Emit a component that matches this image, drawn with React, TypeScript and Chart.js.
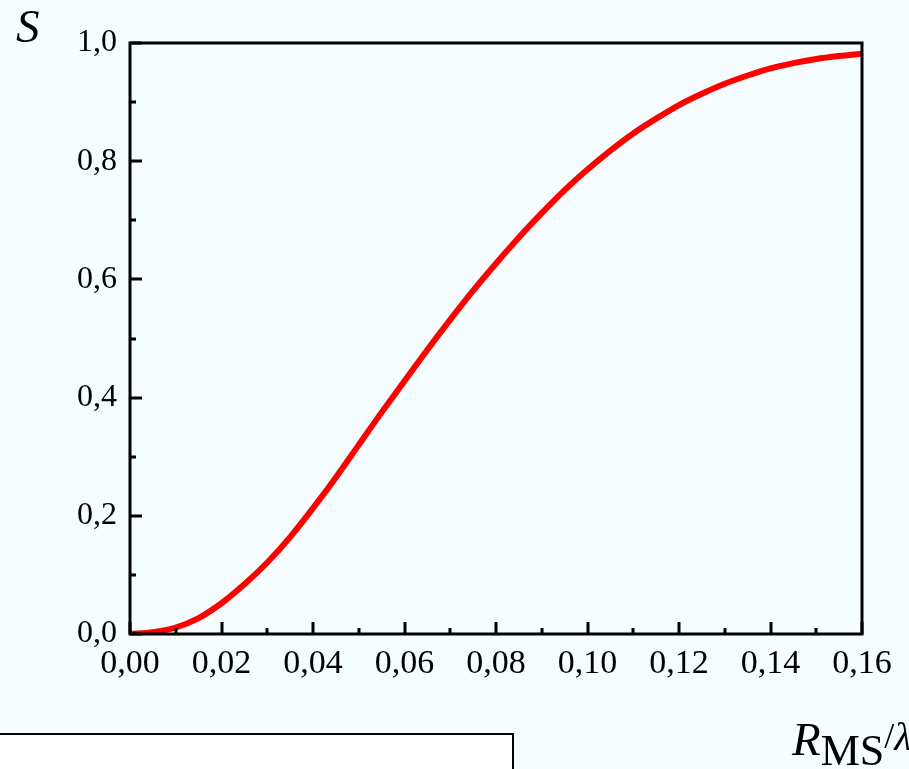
import React, { useEffect, useRef } from "react";
import { Chart, registerables } from "chart.js";

Chart.register(...registerables);

const xValues = [
  0, 0.005, 0.01, 0.015, 0.02, 0.025, 0.03, 0.035, 0.04, 0.045, 0.05, 0.055,
  0.06, 0.065, 0.07, 0.075, 0.08, 0.085, 0.09, 0.095, 0.1, 0.105, 0.11, 0.115,
  0.12, 0.125, 0.13, 0.135, 0.14, 0.145, 0.15, 0.155, 0.16,
];
const sValues = [
  0, 0.003, 0.011, 0.027, 0.052, 0.084, 0.121, 0.164, 0.213, 0.265, 0.32, 0.375,
  0.428, 0.481, 0.532, 0.581, 0.627, 0.671, 0.712, 0.751, 0.786, 0.818, 0.847,
  0.872, 0.895, 0.914, 0.931, 0.945, 0.957, 0.966, 0.973, 0.978, 0.982,
];
const xMajorTicks = [0, 0.02, 0.04, 0.06, 0.08, 0.1, 0.12, 0.14, 0.16];
const xMinorTicks = [0.01, 0.03, 0.05, 0.07, 0.09, 0.11, 0.13, 0.15];
const yMajorTicks = [0, 0.2, 0.4, 0.6, 0.8, 1.0];
const yMinorTicks = [0.1, 0.3, 0.5, 0.7, 0.9];
const yTitle = "S";
const xTitleMain = "R";
const xTitleSub = "MS";
const xTitleSlash = "/";
const xTitleRest = "\u03bb";

const BG = "#f5fdff";
const SERIF = "'Liberation Serif', 'Times New Roman', serif";

const framePlugin = {
  id: "frame",
  beforeDraw(chart: any) {
    const { ctx, width, height } = chart;
    ctx.save();
    ctx.fillStyle = BG;
    ctx.fillRect(0, 0, width, height);
    ctx.fillStyle = "#ffffff";
    ctx.fillRect(0, 734, 513, height - 734);
    ctx.strokeStyle = "#000";
    ctx.lineWidth = 2;
    ctx.beginPath();
    ctx.moveTo(0, 734);
    ctx.lineTo(513, 734);
    ctx.lineTo(513, height);
    ctx.stroke();
    ctx.restore();
  },
  afterDraw(chart: any) {
    const { ctx, chartArea } = chart;
    const xs = chart.scales.x;
    const ys = chart.scales.y;
    const { left, right, top, bottom } = chartArea;
    ctx.save();
    ctx.strokeStyle = "#000";
    ctx.lineWidth = 3;
    ctx.strokeRect(left, top, right - left, bottom - top);
    ctx.beginPath();
    xMajorTicks.forEach((v) => {
      const px = Math.round(xs.getPixelForValue(v));
      ctx.moveTo(px, bottom);
      ctx.lineTo(px, bottom - 12);
    });
    xMinorTicks.forEach((v) => {
      const px = Math.round(xs.getPixelForValue(v));
      ctx.moveTo(px, bottom);
      ctx.lineTo(px, bottom - 6);
    });
    yMajorTicks.forEach((v) => {
      const py = Math.round(ys.getPixelForValue(v));
      ctx.moveTo(left, py);
      ctx.lineTo(left + 12, py);
    });
    yMinorTicks.forEach((v) => {
      const py = Math.round(ys.getPixelForValue(v));
      ctx.moveTo(left, py);
      ctx.lineTo(left + 6, py);
    });
    ctx.stroke();

    ctx.fillStyle = "#000";
    ctx.textBaseline = "alphabetic";
    ctx.textAlign = "left";
    ctx.font = `italic 47px ${SERIF}`;
    ctx.fillText(yTitle, 16, 42);

    let x = 792;
    ctx.font = `italic 47px ${SERIF}`;
    ctx.fillText(xTitleMain, x, 755);
    x += ctx.measureText(xTitleMain).width;
    ctx.font = `44px ${SERIF}`;
    ctx.fillText(xTitleSub, x, 765);
    x += ctx.measureText(xTitleSub).width;
    ctx.font = `36px ${SERIF}`;
    ctx.fillText(xTitleSlash, x, 748);
    x += ctx.measureText(xTitleSlash).width;
    ctx.font = `italic 40px ${SERIF}`;
    ctx.fillText(xTitleRest, x, 750);
    ctx.restore();
  },
};

export default function App() {
  const ref = useRef<HTMLCanvasElement | null>(null);
  useEffect(() => {
    document.body.style.margin = "0";
    document.body.style.background = BG;
    const canvas = ref.current;
    if (!canvas) return;
    const chart = new Chart(canvas, {
      type: "line",
      data: {
        datasets: [
          {
            data: xValues.map((x, i) => ({ x, y: sValues[i] })),
            borderColor: "#ff0000",
            borderWidth: 6,
            pointRadius: 0,
            fill: false,
            cubicInterpolationMode: "monotone",
          },
        ],
      },
      plugins: [framePlugin],
      options: {
        animation: false,
        responsive: false,
        maintainAspectRatio: false,
        layout: { padding: { top: 43, right: 47, left: 0, bottom: 0 } },
        plugins: {
          legend: { display: false },
          tooltip: { enabled: false },
          title: { display: false },
        },
        scales: {
          x: {
            type: "linear",
            min: 0,
            max: 0.16,
            afterBuildTicks: (scale: any) => {
              scale.ticks = xMajorTicks.map((v) => ({ value: v }));
            },
            afterFit: (scale: any) => {
              scale.height = 135;
            },
            grid: { display: false, drawTicks: false },
            border: { display: false },
            ticks: {
              padding: 10,
              color: "#000",
              maxRotation: 0,
              autoSkip: false,
              font: { family: SERIF, size: 34 },
              callback: (v: any) => Number(v).toFixed(2).replace(".", ","),
            },
          },
          y: {
            type: "linear",
            min: 0,
            max: 1,
            afterBuildTicks: (scale: any) => {
              scale.ticks = yMajorTicks.map((v) => ({ value: v }));
            },
            afterFit: (scale: any) => {
              scale.width = 130;
            },
            grid: { display: false, drawTicks: false },
            border: { display: false },
            ticks: {
              padding: 13,
              color: "#000",
              autoSkip: false,
              font: { family: SERIF, size: 32 },
              callback: (v: any) => Number(v).toFixed(1).replace(".", ","),
            },
          },
        },
      },
    });
    return () => chart.destroy();
  }, []);
  return (
    <div style={{ position: "absolute", left: 0, top: 0, width: 909, height: 769, background: BG }}>
      <canvas ref={ref} width={909} height={769} style={{ display: "block", width: 909, height: 769 }} />
    </div>
  );
}
